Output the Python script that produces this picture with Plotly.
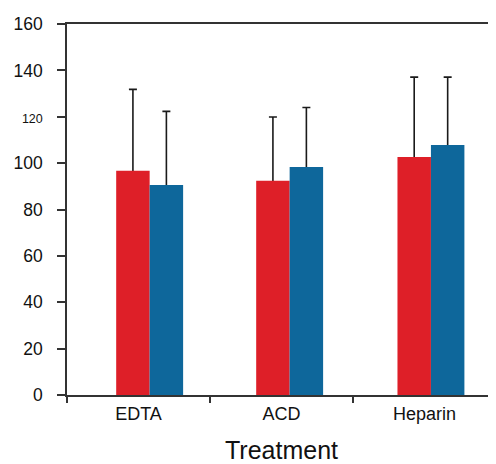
import plotly.graph_objects as go

categories = ["EDTA", "ACD", "Heparin"]
red_values = [96.7, 92.4, 102.6]
red_err = [35.1, 27.5, 34.5]
blue_values = [90.6, 98.3, 107.8]
blue_err = [31.7, 25.7, 29.3]
y_tickvals = [0, 20, 40, 60, 80, 100, 120, 140, 160]
y_ticktext = ["0", "20", "40", "60", "80", "100",
              "<span style='font-size:12.5px'>120</span>", "140", "160"]

RED = "#de1f28"
BLUE = "#0e679b"
ERR = "#1a1a1a"

# bar layout (in category units): width and where the red/blue seam sits
BAR_W = 0.234
SEAM = [0.078, 0.057, 0.045]
red_off = [s - BAR_W for s in SEAM]
blue_off = list(SEAM)

fig = go.Figure()
# error whiskers (drawn first, lower half hidden behind the bars)
for vals, errs, off in [(red_values, red_err, red_off), (blue_values, blue_err, blue_off)]:
    fig.add_trace(go.Bar(
        x=categories, y=vals, width=BAR_W, offset=off,
        marker=dict(color="rgba(0,0,0,0)", line=dict(width=0)),
        error_y=dict(type="data", array=errs, arrayminus=vals, symmetric=False,
                     color=ERR, thickness=1.6, width=4),
        showlegend=False, hoverinfo="skip",
    ))
for vals, color, off in [(red_values, RED, red_off), (blue_values, BLUE, blue_off)]:
    fig.add_trace(go.Bar(
        x=categories, y=vals, width=BAR_W, offset=off,
        marker=dict(color=color, line=dict(width=0)),
        showlegend=False,
    ))

fig.update_layout(
    width=488, height=456,
    margin=dict(l=59, r=0, t=16, b=69),
    paper_bgcolor="white", plot_bgcolor="white",
    barmode="overlay",
    font=dict(family="Liberation Sans, Arial, sans-serif", color="#111111"),
    xaxis=dict(
        showline=True, linecolor="#333333", linewidth=1.5, mirror=True,
        ticks="outside", tickson="boundaries", ticklen=6, tickwidth=1.5,
        tickcolor="#333333", tickfont=dict(size=18), ticklabelstandoff=2,
        showgrid=False, zeroline=False, range=[-0.5, 2.5],
        title=dict(text="Treatment", font=dict(size=25), standoff=23),
    ),
    yaxis=dict(
        range=[0, 160], tickvals=y_tickvals, ticktext=y_ticktext,
        showline=True, linecolor="#333333", linewidth=1.5,
        ticks="outside", ticklen=8, tickwidth=1.5, tickcolor="#333333",
        tickfont=dict(size=17.5), ticklabelstandoff=11,
        showgrid=False, zeroline=False,
    ),
)

fig.write_html("out.html")
